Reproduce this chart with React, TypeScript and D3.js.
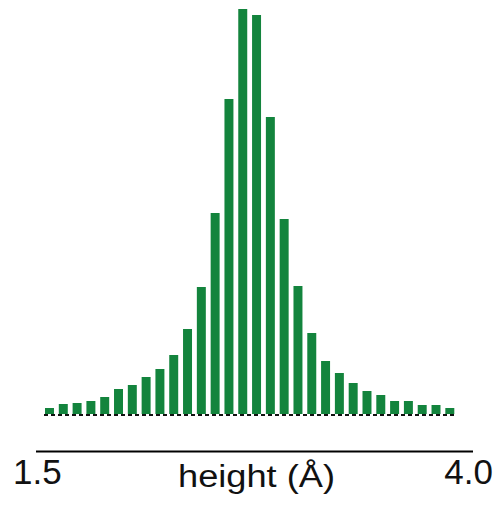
import React, { useEffect, useRef } from 'react';
import * as d3 from 'd3';

// bin centres (Å) and counts
const binCenters = [
  1.56, 1.64, 1.72, 1.80, 1.88, 1.96, 2.04, 2.12, 2.20, 2.28,
  2.36, 2.44, 2.52, 2.60, 2.68, 2.76, 2.84, 2.92, 3.00, 3.08,
  3.16, 3.24, 3.32, 3.40, 3.48, 3.56, 3.64, 3.72, 3.80, 3.88,
];
const counts = [
  6, 10, 11, 13, 17, 25, 29, 37, 45, 59,
  85, 127, 201, 315, 405, 399, 297, 195, 128, 81,
  53, 41, 31, 23, 19, 13, 13, 9, 9, 6,
];
const axisDomain = [1.5, 4.0];
const axisLabel = 'height (Å)';

const W = 498;
const H = 505;

export default function App() {
  const ref = useRef<SVGSVGElement | null>(null);

  useEffect(() => {
    if (!ref.current) return;
    const svg = d3.select(ref.current);
    svg.selectAll('*').remove();

    const baseY = 414;
    const x = d3.scaleBand<number>()
      .domain(binCenters)
      .range([45, 454.3])
      .paddingInner(0.35)
      .paddingOuter(0);
    const y = d3.scaleLinear().domain([0, 405]).range([baseY, 9]);
    const ax = d3.scaleLinear().domain(axisDomain).range([36, 473]);

    // dashed baseline under the bars
    svg.append('line')
      .attr('x1', 44).attr('x2', 456)
      .attr('y1', baseY + 1).attr('y2', baseY + 1)
      .attr('stroke', '#111').attr('stroke-width', 2)
      .attr('stroke-dasharray', '4,3');

    svg.append('g')
      .selectAll('rect')
      .data(binCenters)
      .join('rect')
      .attr('x', d => x(d)!)
      .attr('width', x.bandwidth())
      .attr('y', (d, i) => y(counts[i]))
      .attr('height', (d, i) => baseY - y(counts[i]))
      .attr('fill', '#13843d');

    // x axis line
    svg.append('line')
      .attr('x1', ax(axisDomain[0])).attr('x2', ax(axisDomain[1]))
      .attr('y1', 451.5).attr('y2', 451.5)
      .attr('stroke', '#000').attr('stroke-width', 2);

    const font = "'Liberation Sans', Arial, sans-serif";
    svg.append('text')
      .attr('x', ax(axisDomain[0]) - 23).attr('y', 483.5)
      .attr('font-family', font).attr('font-size', 35)
      .attr('fill', '#111')
      .text(axisDomain[0].toFixed(1));
    svg.append('text')
      .attr('x', ax(axisDomain[1]) + 20).attr('y', 483.5)
      .attr('text-anchor', 'end')
      .attr('font-family', font).attr('font-size', 35)
      .attr('fill', '#111')
      .text(axisDomain[1].toFixed(1));
    svg.append('text')
      .attr('x', 178).attr('y', 487)
      .attr('font-family', font).attr('font-size', 31)
      .attr('fill', '#111')
      .attr('textLength', 157)
      .attr('lengthAdjust', 'spacingAndGlyphs')
      .text(axisLabel);
  }, []);

  return (
    <svg
      ref={ref}
      width={W}
      height={H}
      style={{ position: 'absolute', left: 0, top: 0, background: '#fff' }}
    />
  );
}
